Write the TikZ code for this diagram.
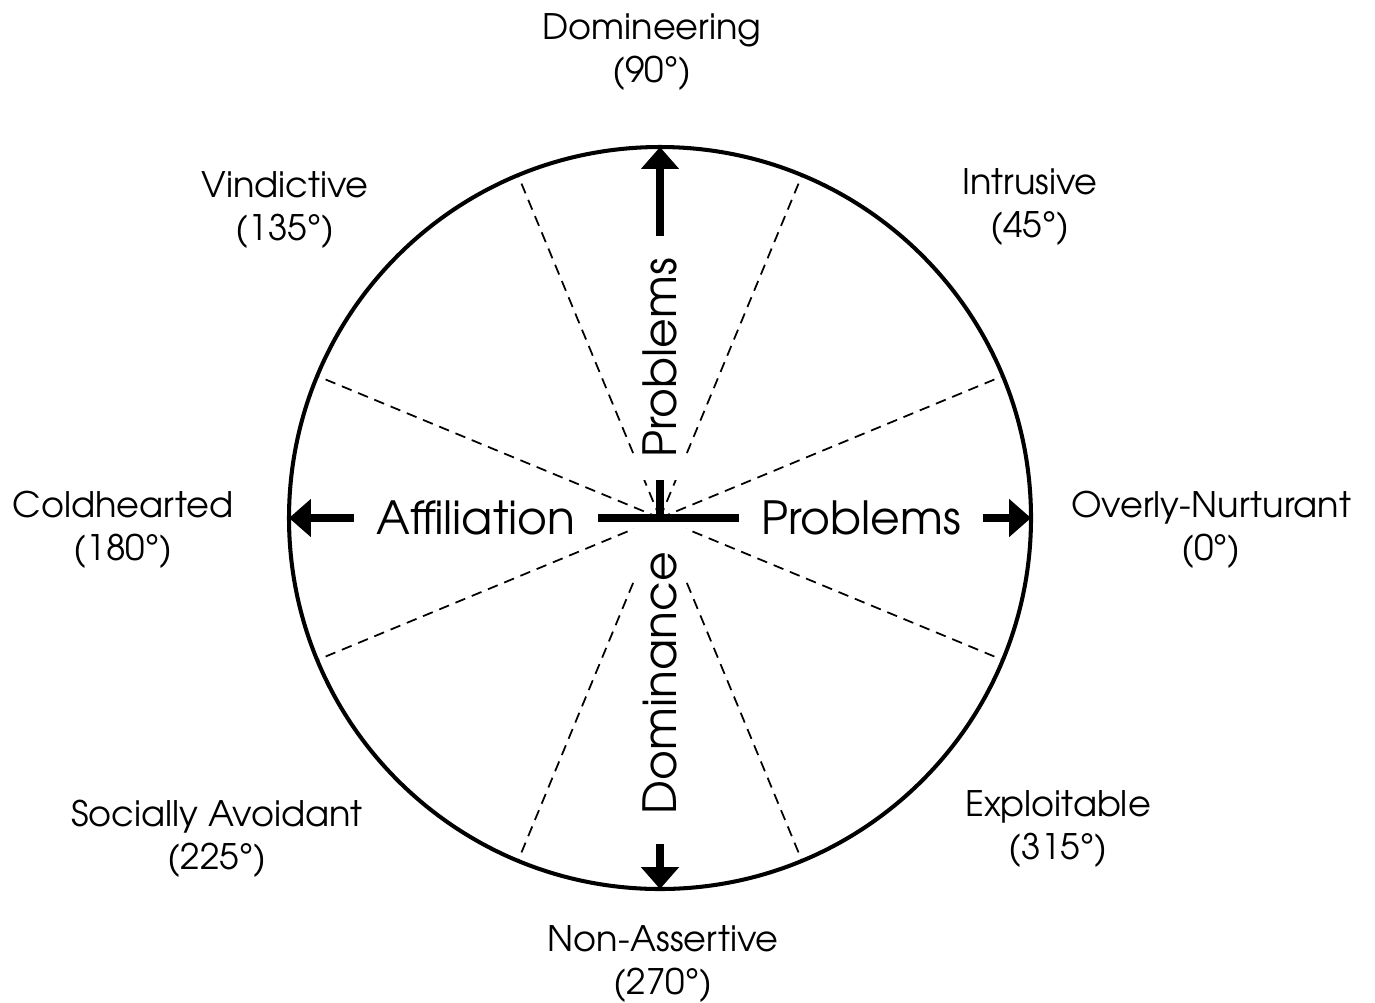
\documentclass[tikz,border=0pt]{standalone}
\usepackage{fontspec}
\setmainfont{texgyreadventor-regular.otf}
\usetikzlibrary{arrows.meta,calc}
\begin{document}
\begin{tikzpicture}[x=0.02cm,y=-0.02cm,
  lab/.style={align=center, inner sep=0pt, font=\fontsize{20}{24.4}\selectfont},
  big/.style={fill=white, inner sep=0pt, font=\fontsize{26}{31}\selectfont},
  ring/.style={line width=2.3pt},
  spoke/.style={line width=1pt, dash pattern=on 6pt off 4pt},
  axis/.style={line width=4.5pt, -{Triangle[length=12.5pt,width=21pt]}}]
\useasboundingbox (0,0) rectangle (1375,1002);
\coordinate (c) at (660,518);
\draw[ring] (c) circle [radius=371];
\foreach \i/\a in {1/22.5,2/67.5,3/112.5,4/157.5,5/202.5,6/247.5,7/292.5,8/337.5}{
  \coordinate (d\i) at ($(c)+(\a:371)$);
  \draw[spoke] (c) -- (d\i);
}
\coordinate (E) at ($(c)+(371,0)$);
\coordinate (W) at ($(c)+(-371,0)$);
\coordinate (N) at ($(c)+(0,-371)$);
\coordinate (S) at ($(c)+(0,371)$);
\draw[axis] (c) -- (E);
\draw[axis] (c) -- (W);
\draw[axis] (c) -- (N);
\draw[axis] (c) -- (S);
% inner labels
\node[big, inner xsep=12.5pt, inner ysep=3pt] (aff) at (476,518) {Affiliation};
\node[big, inner xsep=12.5pt, inner ysep=3pt] (probR) at (861,518) {Problems};
\node[big, rotate=90, inner xsep=12.5pt, inner ysep=5pt] (probU) at (660,358) {Problems};
\node[big, rotate=90, inner xsep=17pt, inner ysep=5pt] (dom) at (660,683) {Dominance};
% outer labels
\node[lab] (l90) at (652,52) {Domineering\\(90°)};
\node[lab] (l135) at (285,210) {Vindictive\\(135°)};
\node[lab] (l45) at (1030,207) {Intrusive\\(45°)};
\node[lab] (l180) at (123,530) {Coldhearted\\(180°)};
\node[lab] (l0) at (1211,530) {Overly-Nurturant\\(0°)};
\node[lab] (l225) at (217,839) {Socially Avoidant\\(225°)};
\node[lab] (l315) at (1058,829) {Exploitable\\(315°)};
\node[lab] (l270) at (663,964) {Non-Assertive\\(270°)};
\end{tikzpicture}
\end{document}
